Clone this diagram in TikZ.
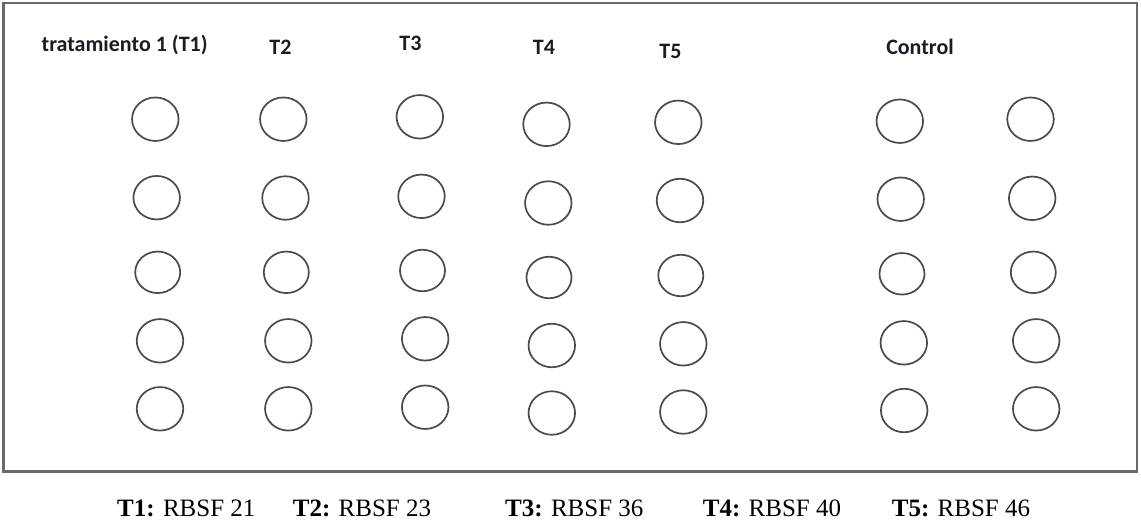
\documentclass[tikz,border=0pt]{standalone}
\usepackage{fontspec}
\setmainfont{Liberation Serif}
\newfontfamily\hdfont{Carlito}
\usetikzlibrary{shapes.geometric}
\definecolor{potgray}{HTML}{4A4A4A}
\definecolor{framegray}{HTML}{6A6A6A}
\definecolor{headcol}{HTML}{1C1C24}
\begin{document}
\begin{tikzpicture}[x=1pt,y=-1pt,
  pot/.style={draw=potgray, line width=1.7pt, ellipse, minimum width=46.5pt, minimum height=43.5pt, inner sep=0pt},
  potsm/.style={pot, minimum width=45pt, minimum height=41.5pt},
  head/.style={font=\hdfont\bfseries\fontsize{22}{26}\selectfont, text=headcol, inner sep=0pt, anchor=base},
  leg/.style={font=\fontsize{25}{29}\selectfont, inner sep=0pt, anchor=base west}]
\useasboundingbox (0,0) rectangle (1141,523);
\draw[framegray, line width=2.4pt] (3.5,3) rectangle (1137,471.5);
% headers
\node[head, anchor=base west] (h1) at (41.5,51.5) {tratamiento 1 (T1)};
\node[head] (h2) at (280.5,54) {T2};
\node[head] (h3) at (410.5,50.7) {T3};
\node[head] (h4) at (544,54) {T4};
\node[head] (h5) at (670.5,58.3) {T5};
\node[head] (hc) at (920,54) {Control};
% T1
\node[pot] (a1) at (155.3,119.2) {};
\node[pot] (a2) at (156.7,197.7) {};
\node[potsm] (a3) at (157.7,272.3) {};
\node[pot] (a4) at (160,340.8) {};
\node[pot] (a5) at (160,408.8) {};
% T2
\node[pot] (b1) at (283.3,119.2) {};
\node[pot] (b2) at (285.5,198) {};
\node[potsm] (b3) at (286.3,272.3) {};
\node[pot] (b4) at (288.3,340.8) {};
\node[pot] (b5) at (288.3,408.8) {};
% T3
\node[pot] (c1) at (419.8,116.8) {};
\node[pot] (c2) at (421.5,196.3) {};
\node[potsm] (c3) at (422.5,270.5) {};
\node[pot] (c4) at (425.2,338.8) {};
\node[pot] (c5) at (425.2,407.2) {};
% T4
\node[pot] (d1) at (546.5,124.3) {};
\node[pot] (d2) at (548.3,203) {};
\node[potsm] (d3) at (549,277.5) {};
\node[pot] (d4) at (551.8,345.5) {};
\node[pot] (d5) at (551.8,413) {};
% T5
\node[pot] (e1) at (678.3,122.3) {};
\node[pot] (e2) at (680,200.5) {};
\node[potsm] (e3) at (680.8,275.5) {};
\node[pot] (e4) at (683.3,343.8) {};
\node[pot] (e5) at (683.3,412) {};
% Control col 1
\node[pot] (f1) at (899.8,121.2) {};
\node[pot] (f2) at (900.7,199.2) {};
\node[potsm] (f3) at (902,273.8) {};
\node[pot] (f4) at (903.8,342.8) {};
\node[pot] (f5) at (904.2,410.5) {};
% Control col 2
\node[pot] (g1) at (1030.5,119.2) {};
\node[pot] (g2) at (1032.2,198.3) {};
\node[potsm] (g3) at (1033.3,272.3) {};
\node[pot] (g4) at (1036.2,340.8) {};
\node[pot] (g5) at (1036.2,408.8) {};
% legend
\node[leg] (l1) at (117,516) {\textbf{T1:} RBSF 21};
\node[leg] (l2) at (292.7,516) {\textbf{T2:} RBSF 23};
\node[leg] (l3) at (505,516) {\textbf{T3:} RBSF 36};
\node[leg] (l4) at (702.7,516) {\textbf{T4:} RBSF 40};
\node[leg] (l5) at (891.7,516) {\textbf{T5:} RBSF 46};
\end{tikzpicture}
\end{document}
